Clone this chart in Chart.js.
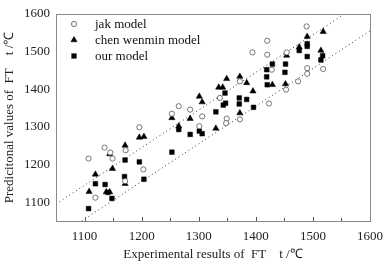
<!DOCTYPE html>
<html>
<head>
<meta charset="utf-8">
<script src="https://cdn.jsdelivr.net/npm/chart.js@4/dist/chart.umd.min.js"></script>
<style>
  body { margin: 0; background: #fff; }
  #wrap { width: 391px; height: 265px; }
</style>
</head>
<body>
<div id="wrap"><canvas id="myChart" width="391" height="265"></canvas></div>
<script>
var jakX = [1107, 1119, 1135, 1145, 1149, 1172, 1171, 1203, 1196, 1253, 1265, 1285, 1306, 1301, 1337, 1349,
            1348, 1372, 1372, 1394, 1420, 1420, 1428, 1454, 1453, 1474, 1423, 1489, 1490, 1490, 1518];
var jakY = [1216, 1112, 1245, 1232, 1216, 1238, 1156, 1187, 1299, 1335, 1355, 1346, 1328, 1302, 1377, 1322,
            1310, 1320, 1421, 1498, 1529, 1492, 1452, 1498, 1399, 1421, 1362, 1567, 1456, 1441, 1454];

var chenX = [1108, 1119, 1138, 1144, 1144, 1149, 1171, 1171, 1196, 1204, 1253, 1285, 1265, 1301, 1306,
             1330, 1335, 1342, 1349, 1372, 1384, 1395, 1372, 1429, 1452, 1454, 1476, 1490, 1518, 1514];
var chenY = [1128, 1174, 1127, 1127, 1228, 1189, 1251, 1149, 1272, 1274, 1324, 1322, 1302, 1381, 1366,
             1296, 1405, 1405, 1428, 1434, 1417, 1395, 1337, 1412, 1414, 1490, 1512, 1540, 1553, 1503];

var ourX = [1107, 1119, 1136, 1141, 1148, 1170, 1171, 1196, 1204, 1253, 1265, 1285, 1301, 1306, 1330, 1346, 1343,
            1347, 1371, 1371, 1384, 1396, 1419, 1419, 1429, 1452, 1451, 1420, 1476, 1490, 1490, 1490, 1517, 1514];
var ourY = [1083, 1149, 1147, 1126, 1110, 1168, 1212, 1207, 1161, 1233, 1293, 1280, 1289, 1282, 1340, 1390, 1358,
            1363, 1377, 1361, 1373, 1352, 1433, 1452, 1467, 1467, 1445, 1412, 1503, 1521, 1514, 1487, 1489, 1478];

// dotted error band lines
var upperX = [1050, 1555], upperY = [1095, 1600];
var lowerX = [1095, 1600], lowerY = [1050, 1555];

var seriesNames = ['jak model', 'chen wenmin model', 'our model'];

function pts(xs, ys) {
    return xs.map(function(x, i) { return {x: x, y: ys[i]}; });
}

var serif = "'Liberation Serif', 'Times New Roman', serif";

// frame, inward x ticks and legend inside the plot
var decor = {
    id: 'decor',
    afterDraw: function(chart) {
        var ctx = chart.ctx, a = chart.chartArea, xs = chart.scales.x;
        ctx.save();
        ctx.strokeStyle = '#8a8a8a';
        ctx.lineWidth = 1;
        ctx.strokeRect(Math.round(a.left) + 0.5, Math.round(a.top) + 0.5,
                       Math.round(a.right - a.left), Math.round(a.bottom - a.top));
        ctx.strokeStyle = '#555';
        xs.ticks.forEach(function(t) {
            if (t.value <= xs.min || t.value >= xs.max) return;
            var px = Math.round(xs.getPixelForValue(t.value)) + 0.5;
            var len = t.value % 100 === 0 ? 4 : 3;
            ctx.beginPath();
            ctx.moveTo(px, a.bottom);
            ctx.lineTo(px, a.bottom - len);
            ctx.stroke();
        });
        // legend
        ctx.font = '13px ' + serif;
        ctx.textBaseline = 'middle';
        chart.data.datasets.forEach(function(ds, i) {
            if (ds.type === 'line') return;
            var cx = a.left + 18, cy = a.top + 10 + i * 16;
            ctx.fillStyle = ds.backgroundColor;
            ctx.strokeStyle = ds.borderColor;
            ctx.lineWidth = ds.borderWidth;
            Chart.helpers.drawPoint(ctx, {pointStyle: ds.pointStyle, radius: ds.pointRadius, rotation: 0,
                                          borderWidth: ds.borderWidth}, cx, cy);
            ctx.fillStyle = '#111';
            ctx.fillText(ds.label, a.left + 39, cy + 1);
        });
        ctx.restore();
    }
};

var ctx = document.getElementById('myChart').getContext('2d');
var myChart = new Chart(ctx, {
    type: 'scatter',
    data: {
        datasets: [{
            label: seriesNames[0],
            data: pts(jakX, jakY),
            pointStyle: 'circle',
            pointRadius: 2.6,
            backgroundColor: '#fff',
            borderColor: '#555',
            borderWidth: 0.8
        }, {
            label: seriesNames[1],
            data: pts(chenX, chenY),
            pointStyle: 'triangle',
            pointRadius: 3.6,
            backgroundColor: '#000',
            borderColor: '#000',
            borderWidth: 0.5
        }, {
            label: seriesNames[2],
            data: pts(ourX, ourY),
            pointStyle: 'rect',
            pointRadius: 3.3,
            backgroundColor: '#000',
            borderColor: '#000',
            borderWidth: 0.5
        }, {
            type: 'line',
            data: pts(upperX, upperY),
            borderColor: '#333',
            borderWidth: 1,
            borderDash: [1, 3],
            pointRadius: 0,
            fill: false
        }, {
            type: 'line',
            data: pts(lowerX, lowerY),
            borderColor: '#333',
            borderWidth: 1,
            borderDash: [1, 3],
            pointRadius: 0,
            fill: false
        }]
    },
    options: {
        responsive: false,
        animation: false,
        layout: { padding: { top: 14, right: 19, left: 0, bottom: 0 } },
        plugins: {
            legend: { display: false },
            tooltip: { enabled: false }
        },
        scales: {
            x: {
                type: 'linear',
                min: 1050,
                max: 1600,
                grid: { display: false, drawTicks: false },
                border: { display: false },
                ticks: {
                    stepSize: 50,
                    padding: 8,
                    maxRotation: 0,
                    autoSkip: false,
                    color: '#222',
                    font: { family: serif, size: 13 },
                    callback: function(v) { return v % 100 === 0 ? v : ''; }
                },
                title: {
                    display: true,
                    text: 'Experimental results of  FT    t /℃',
                    color: '#222',
                    font: { family: serif, size: 13 },
                    padding: { top: 2, bottom: 3 }
                },
                afterFit: function(s) { s.height = 44; }
            },
            y: {
                type: 'linear',
                min: 1050,
                max: 1600,
                grid: { display: false, drawTicks: false },
                border: { display: false },
                ticks: {
                    stepSize: 50,
                    padding: 6,
                    autoSkip: false,
                    color: '#222',
                    font: { family: serif, size: 13 },
                    callback: function(v) { return v % 100 === 0 ? v : ''; }
                },
                title: {
                    display: true,
                    text: 'Predicitonal values of  FT    t /℃',
                    color: '#222',
                    font: { family: serif, size: 13 },
                    padding: { top: 2, bottom: 2 }
                },
                afterFit: function(s) { s.width = 56; }
            }
        }
    },
    plugins: [decor]
});
</script>
</body>
</html>
